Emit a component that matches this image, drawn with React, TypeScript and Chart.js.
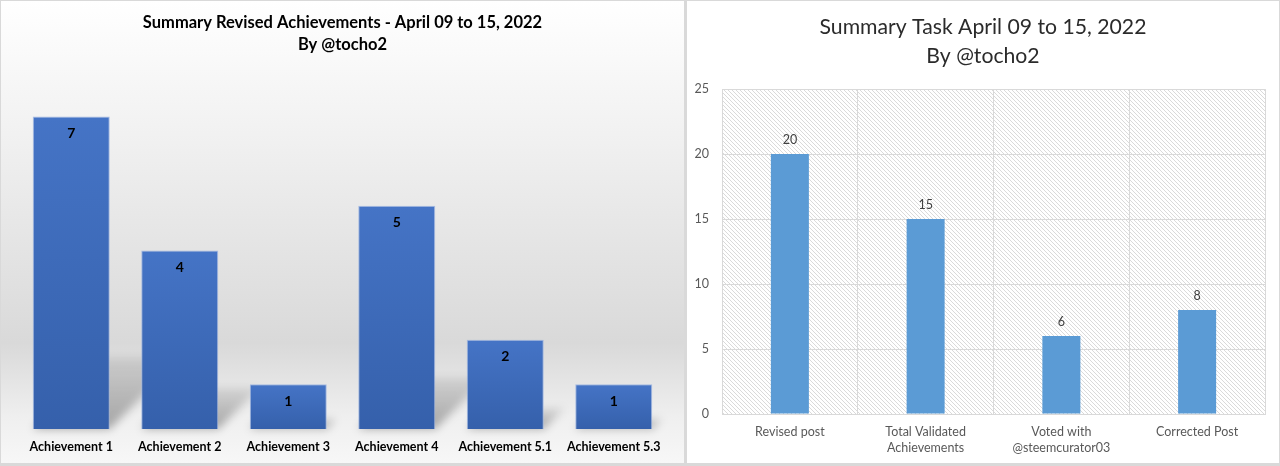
import React, { useEffect, useRef } from 'react';
import { Chart, registerables } from 'chart.js';

Chart.register(...registerables);

const FONT = 'Lato, "Open Sans", sans-serif';

const achievementTitle = ['Summary Revised Achievements - April 09 to 15, 2022', 'By @tocho2'];
const achievementLabels = ['Achievement 1', 'Achievement 2', 'Achievement 3', 'Achievement 4', 'Achievement 5.1', 'Achievement 5.3'];
const achievementValues = [7, 4, 1, 5, 2, 1];

const taskTitle = ['Summary Task April 09 to 15, 2022', 'By @tocho2'];
const taskLabels = [['Revised post'], ['Total Validated', 'Achievements'], ['Voted with', '@steemcurator03'], ['Corrected Post']];
const taskValues = [20, 15, 6, 8];
const taskTickMax = 25;
const taskTickStep = 5;

function ok(...v: number[]) {
  return v.every((n) => typeof n === 'number' && isFinite(n));
}

function LeftChart() {
  const ref = useRef<HTMLCanvasElement>(null);
  useEffect(() => {
    const canvas = ref.current!;
    const shadowPlugin = {
      id: 'perspectiveShadow',
      beforeDatasetsDraw(chart: any) {
        const ctx = chart.ctx;
        const meta = chart.getDatasetMeta(0);
        ctx.save();
        ctx.filter = 'blur(4px)';
        meta.data.forEach((bar: any) => {
          const { x, y, base, width } = bar;
          if (!ok(x, y, base, width)) return;
          const h = base - y;
          const sh = h * 0.23;
          const l = x - width / 2;
          const r = x + width / 2;
          const g = ctx.createLinearGradient(0, base, 0, base - sh - 1);
          g.addColorStop(0, 'rgba(0,0,0,0.32)');
          g.addColorStop(1, 'rgba(0,0,0,0.08)');
          ctx.fillStyle = g;
          ctx.beginPath();
          ctx.moveTo(l, base);
          ctx.lineTo(r, base);
          ctx.lineTo(r + sh, base - sh);
          ctx.lineTo(l + sh, base - sh);
          ctx.closePath();
          ctx.fill();
        });
        ctx.restore();
      },
    };
    const labelPlugin = {
      id: 'insideLabels',
      afterDatasetsDraw(chart: any) {
        const ctx = chart.ctx;
        const meta = chart.getDatasetMeta(0);
        ctx.save();
        ctx.font = `bold 14px ${FONT}`;
        ctx.fillStyle = '#000000';
        ctx.textAlign = 'center';
        ctx.textBaseline = 'middle';
        meta.data.forEach((bar: any, i: number) => {
          ctx.fillText(String(achievementValues[i]), bar.x, bar.y + 17);
        });
        ctx.restore();
      },
    };
    const chart = new Chart(canvas, {
      type: 'bar',
      data: {
        labels: achievementLabels,
        datasets: [
          {
            data: achievementValues,
            backgroundColor: (c: any) => {
              const ch = c.chart;
              const ys = ch.scales?.y;
              if (!ys || c.dataIndex === undefined) return '#3f6bbb';
              const top = ys.getPixelForValue(achievementValues[c.dataIndex]);
              const base = ys.getPixelForValue(0);
              if (!ok(top, base) || top === base) return '#3f6bbb';
              const g = ch.ctx.createLinearGradient(0, top, 0, base);
              g.addColorStop(0, '#4574c6');
              g.addColorStop(1, '#3560ab');
              return g;
            },
            borderColor: 'rgba(150,175,225,0.8)',
            borderWidth: 1,
            barPercentage: 0.71,
            categoryPercentage: 1,
          },
        ],
      },
      options: {
        responsive: false,
        animation: false,
        layout: { padding: { left: 16, right: 16, top: 0, bottom: 0 } },
        plugins: {
          legend: { display: false },
          tooltip: { enabled: false },
          title: {
            display: true,
            text: achievementTitle,
            color: '#000000',
            font: { family: FONT, size: 16.5, weight: 'bold', lineHeight: 1.36 },
            padding: { top: 10, bottom: 16 },
          },
        },
        scales: {
          x: {
            grid: { display: false, drawTicks: false },
            border: { display: false },
            ticks: { color: '#000000', font: { family: FONT, size: 12.5, weight: 'bold' }, padding: 10, maxRotation: 0 },
            afterFit(scale: any) {
              scale.height = 34;
            },
          },
          y: { display: false, min: 0, max: 8 },
        },
      },
      plugins: [shadowPlugin, labelPlugin],
    });
    return () => chart.destroy();
  }, []);
  return <canvas ref={ref} width={683} height={462} style={{ display: 'block' }} />;
}

function RightChart() {
  const ref = useRef<HTMLCanvasElement>(null);
  useEffect(() => {
    const canvas = ref.current!;
    const pc = document.createElement('canvas');
    pc.width = 4;
    pc.height = 4;
    const pctx = pc.getContext('2d')!;
    pctx.fillStyle = '#ffffff';
    pctx.fillRect(0, 0, 4, 4);
    pctx.strokeStyle = '#dadada';
    pctx.lineWidth = 1;
    pctx.beginPath();
    pctx.moveTo(-1, -1);
    pctx.lineTo(5, 5);
    pctx.moveTo(-1, 3);
    pctx.lineTo(1, 5);
    pctx.moveTo(3, -1);
    pctx.lineTo(5, 1);
    pctx.stroke();

    const hatchPlugin = {
      id: 'hatchBg',
      beforeDraw(chart: any) {
        const { ctx, chartArea } = chart;
        if (!chartArea) return;
        ctx.save();
        const pat = ctx.createPattern(pc, 'repeat');
        ctx.fillStyle = pat;
        ctx.fillRect(chartArea.left, chartArea.top, chartArea.right - chartArea.left, chartArea.bottom - chartArea.top);
        ctx.restore();
      },
    };
    const labelPlugin = {
      id: 'topLabels',
      afterDatasetsDraw(chart: any) {
        const ctx = chart.ctx;
        const meta = chart.getDatasetMeta(0);
        ctx.save();
        ctx.font = `12.5px ${FONT}`;
        ctx.fillStyle = '#404040';
        ctx.textAlign = 'center';
        ctx.textBaseline = 'middle';
        meta.data.forEach((bar: any, i: number) => {
          ctx.fillText(String(taskValues[i]), bar.x, bar.y - 14);
        });
        ctx.restore();
      },
    };
    const chart = new Chart(canvas, {
      type: 'bar',
      data: {
        labels: taskLabels,
        datasets: [
          {
            data: taskValues,
            backgroundColor: '#5b9bd5',
            barPercentage: 0.28,
            categoryPercentage: 1,
          },
        ],
      },
      options: {
        responsive: false,
        animation: false,
        layout: { padding: { left: 0, right: 0, top: 0, bottom: 0 } },
        plugins: {
          legend: { display: false },
          tooltip: { enabled: false },
          title: {
            display: true,
            text: taskTitle,
            color: '#2b2b2b',
            font: { family: FONT, size: 21.2, weight: 'normal', lineHeight: 1.37 },
            padding: { top: 12, bottom: 18 },
          },
        },
        scales: {
          x: {
            grid: { display: true, drawTicks: false, color: '#d9d9d9', offset: true },
            border: { display: true, color: '#d9d9d9' },
            ticks: { color: '#595959', font: { family: FONT, size: 12.5, lineHeight: 1.28 }, padding: 10, maxRotation: 0 },
            afterFit(scale: any) {
              scale.height = 49;
            },
          },
          y: {
            min: 0,
            max: taskTickMax,
            grid: { drawTicks: false, color: '#d9d9d9' },
            border: { display: true, color: '#d9d9d9' },
            ticks: { stepSize: taskTickStep, color: '#595959', font: { family: FONT, size: 12.5 }, padding: 13 },
            afterFit(scale: any) {
              scale.width = 35;
            },
          },
          yRightSpacer: {
            type: 'linear',
            position: 'right',
            display: true,
            min: 0,
            max: taskTickMax,
            grid: { display: false, drawTicks: false },
            border: { display: false },
            ticks: { display: false },
            afterFit(scale: any) {
              scale.width = 14;
            },
          },
        },
      },
      plugins: [hatchPlugin, labelPlugin],
    });
    return () => chart.destroy();
  }, []);
  return <canvas ref={ref} width={592} height={462} style={{ display: 'block' }} />;
}

export default function App() {
  return (
    <div style={{ position: 'fixed', left: 0, top: 0, width: 1280, height: 466, background: '#d9d9d9', overflow: 'hidden' }}>
      <div
        style={{
          position: 'absolute',
          left: 1,
          top: 1,
          width: 683,
          height: 462,
          background: 'linear-gradient(to bottom, #ffffff 0%, #f3f3f3 25%, #dedede 65%, #d9d9d9 74%, #efefef 90%, #f7f7f7 100%)',
        }}
      >
        <LeftChart />
      </div>
      <div style={{ position: 'absolute', left: 687, top: 1, width: 592, height: 462, background: '#ffffff' }}>
        <RightChart />
      </div>
    </div>
  );
}
